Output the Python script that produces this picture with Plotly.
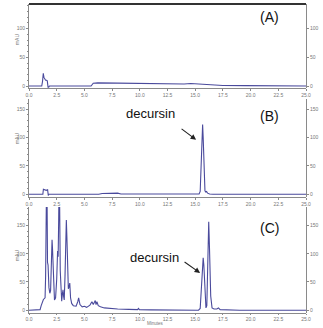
import plotly.graph_objects as go

# Chromatogram A
t_a = [0, 1.15, 1.22, 1.29, 1.35, 1.42, 1.5, 1.58, 1.65, 1.72, 1.78, 1.85, 5.6, 5.8, 6.2, 8.0, 10.0, 12.0, 14.0, 14.6, 15.0, 15.6, 16.5, 17.5, 19.5, 22.0, 25.0]
v_a = [0, 0, 8, 22, 15, 12, 10, 10, 9, -2, -2, 0, 0, 5, 5.5, 5, 4.5, 3.5, 3.5, 4.5, 4, 3, 1.5, 1, 0.8, 0, 0]

# Chromatogram B
t_b = [0, 1.25, 1.3, 1.4, 1.55, 1.68, 1.74, 1.8, 1.9, 6.3, 6.6, 7.2, 7.6, 8.0, 8.3, 12.7, 12.8, 12.9, 15.35, 15.45, 15.55, 15.62, 15.67, 15.72, 15.8, 15.88, 15.95, 16.03, 16.12, 16.3, 16.6, 20.9, 21.2, 21.8, 22.0, 25.0]
v_b = [0, 0, 9, 8, 7, 8, -2, 0, 0, 0, 1.5, 2, 1.5, 2, 0.5, 0.5, 1.5, 0.5, 0.5, 5, 60, 115, 123, 100, 30, 6, 4, 5, 2, 0.5, 0, 0, 1, 1, 0, 0]

# Chromatogram C
t_c = [0, 1.0, 1.1, 1.2, 1.3, 1.45, 1.5, 1.55, 1.59, 1.63, 1.67, 1.72, 1.8, 1.88, 1.95, 2.0, 2.05, 2.08, 2.12, 2.2, 2.3, 2.4, 2.5, 2.58, 2.63, 2.68, 2.72, 2.76, 2.82, 2.88, 2.95, 3.02, 3.07, 3.12, 3.18, 3.25, 3.32, 3.37, 3.42, 3.48, 3.55, 3.62, 3.68, 3.75, 3.85, 4.0, 4.25, 4.4, 4.48, 4.6, 4.8, 5.0, 5.2, 5.5, 5.68, 5.8, 5.9, 5.98, 6.05, 6.13, 6.25, 6.45, 6.8, 7.3, 8.0, 9.0, 9.8, 9.88, 9.96, 11.0, 13.0, 15.3, 15.45, 15.6, 15.68, 15.72, 15.78, 15.88, 15.97, 16.05, 16.15, 16.22, 16.29, 16.4, 16.52, 16.7, 16.95, 17.1, 17.25, 19.0, 25.0]
v_c = [0, 1, 8, 16, 19, 22, 60, 160, 240, 200, 85, 80, 40, 30, 35, 80, 122, 125, 110, 45, 18, 22, 55, 105, 95, 160, 240, 200, 70, 25, 16, 30, 36, 25, 18, 60, 140, 160, 130, 55, 38, 42, 48, 22, 12, 8, 7, 15, 22, 10, 6, 7, 5, 9, 15, 10, 13, 17, 10, 15, 8, 6, 4, 3, 2, 1.5, 1, 3, 1, 0.5, 0.2, 0, 3, 50, 88, 93, 80, 25, 4, 8, 100, 157, 110, 25, 4, 2, 2, 4, 1, 0, 0]

x_ticks = [0, 2.5, 5, 7.5, 10, 12.5, 15, 17.5, 20, 22.5, 25]
panel_labels = ["(A)", "(B)", "(C)"]
peak_name = "decursin"

LINE = "#4a4a9c"
AX = "#8a8a8a"
TICKFONT = dict(family="Liberation Sans, Arial", size=5, color="#777777")

fig = go.Figure()
fig.add_trace(go.Scatter(x=t_a, y=v_a, mode="lines", line=dict(color=LINE, width=1.1), xaxis="x3", yaxis="y3"))
fig.add_trace(go.Scatter(x=t_b, y=v_b, mode="lines", line=dict(color=LINE, width=1.1), xaxis="x2", yaxis="y2"))
fig.add_trace(go.Scatter(x=t_c, y=v_c, mode="lines", line=dict(color=LINE, width=1.1), xaxis="x", yaxis="y"))

doms = {"": [0.0, 0.343], "2": [0.375, 0.693], "3": [0.728, 1.0]}
ranges = {"": [-5, 183], "2": [-5, 168], "3": [-3.5, 143]}
yt = {"": [0, 50, 100, 150], "2": [0, 50, 100, 150], "3": [0, 50, 100]}

def xax(anchor, tl=2):
    return dict(range=[0, 25], tickvals=x_ticks, tickformat=".1f", showgrid=False, zeroline=False,
                showline=True, linecolor=AX, linewidth=1, ticks="outside", ticklen=tl, tickcolor=AX,
                tickfont=TICKFONT, anchor=anchor)

def yax(k, anchor):
    return dict(domain=doms[k], range=ranges[k], tickvals=yt[k], showgrid=False, zeroline=False,
                showline=True, linecolor=AX, linewidth=1, ticks="outside", ticklen=2, tickcolor=AX,
                tickfont=TICKFONT, anchor=anchor,
                minor=dict(dtick=10, ticks="outside", ticklen=1.5, tickcolor=AX))

lay = dict(
    width=323, height=328, margin=dict(l=29, r=17, t=4, b=15),
    paper_bgcolor="white", plot_bgcolor="white", showlegend=False,
    xaxis=xax("y", 1), xaxis2=xax("y2"), xaxis3=xax("y3"),
    yaxis=yax("", "x"), yaxis2=yax("2", "x2"), yaxis3=yax("3", "x3"),
)
# right-side mirrored axes
for i, k, ov in [(4, "", "y"), (5, "2", "y2"), (6, "3", "y3")]:
    d = yax(k, "x")
    d.update(side="right", overlaying=ov, anchor="free", position=1.0)
    d["minor"] = dict(ticks="")
    lay["yaxis%d" % i] = d
fig.update_layout(**lay)
# invisible traces so the right axes render
fig.add_trace(go.Scatter(x=[0], y=[0], mode="markers", marker=dict(opacity=0), yaxis="y4", hoverinfo="skip"))
fig.add_trace(go.Scatter(x=[0], y=[0], mode="markers", marker=dict(opacity=0), xaxis="x2", yaxis="y5", hoverinfo="skip"))
fig.add_trace(go.Scatter(x=[0], y=[0], mode="markers", marker=dict(opacity=0), xaxis="x3", yaxis="y6", hoverinfo="skip"))

# top border of panel A
fig.add_shape(type="line", xref="paper", yref="paper", x0=0, x1=1, y0=1, y1=1, line=dict(color="#333333", width=2))

BIG = dict(family="Liberation Sans, Arial", size=14, color="#111111")
fig.add_annotation(x=21.75, y=120, xref="x3", yref="y3", text=panel_labels[0], showarrow=False, font=BIG)
fig.add_annotation(x=21.7, y=138, xref="x2", yref="y2", text=panel_labels[1], showarrow=False, font=BIG)
fig.add_annotation(x=21.7, y=146, xref="x", yref="y", text=panel_labels[2], showarrow=False, font=BIG)

DEC = dict(family="Liberation Sans, Arial", size=13, color="#111111")
fig.add_annotation(x=10.95, y=142, xref="x2", yref="y2", text=peak_name, showarrow=False, font=DEC)
fig.add_annotation(x=15.08, y=96, xref="x2", yref="y2", text="", showarrow=True, ax=-16, ay=-12,
                   arrowhead=2, arrowsize=1, arrowwidth=1.1, arrowcolor="#222222")
fig.add_annotation(x=11.36, y=92.7, xref="x", yref="y", text=peak_name, showarrow=False, font=DEC)
fig.add_annotation(x=15.44, y=66, xref="x", yref="y", text="", showarrow=True, ax=-17, ay=-12,
                   arrowhead=2, arrowsize=1, arrowwidth=1.1, arrowcolor="#222222")

SMALL = dict(family="Liberation Sans, Arial", size=5, color="#777777")
for yc in [(313 - 31) / 309, (313 - 138) / 309, (313 - 263) / 309]:
    fig.add_annotation(x=-0.061, y=yc, xref="paper", yref="paper", text="mAU", textangle=-90, showarrow=False, font=SMALL)
fig.add_annotation(x=(155 - 29) / 277, y=(313 - 328) / 309, xref="paper", yref="paper", yanchor="bottom",
                   text="Minutes", showarrow=False, font=dict(family="Liberation Sans, Arial", size=4.5, color="#777777"))

fig.write_html("out.html")
